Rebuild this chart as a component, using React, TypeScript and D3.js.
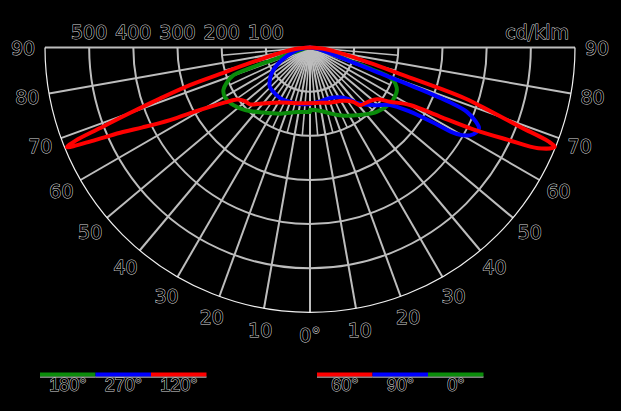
import React from "react";
import * as d3 from "d3";

// ---- data ----
const ANGLE_TICKS = [0, 10, 20, 30, 40, 50, 60, 70, 80, 90];
const RADIAL_TICKS = [100, 200, 300, 400, 500];
const R_MAX = 600;
const UNIT = "cd/klm";

// right side (C0 / C90 / C60)
const C0_ANG = [0, 10, 17, 25, 36.5, 46, 55, 60, 64, 67, 68.6, 70, 70.6, 71.5, 74, 80, 90];
const C0_VAL = [141, 146, 156, 170, 190, 210, 221, 222, 219, 210, 202, 185, 150, 100, 50, 15, 0];
const C90_ANG = [0, 12, 21.6, 34.7, 41, 48, 54.3, 57.3, 58.7, 59.5, 61.2, 63, 64.5, 66, 67.7, 68.6, 69.3, 70, 72, 80, 90];
const C90_VAL = [127, 124, 123, 139, 168, 195, 223, 269, 330, 386, 413, 423, 424, 410, 384, 340, 250, 150, 70, 15, 0];
const C60_ANG = [0, 10, 20, 31.7, 38.4, 41, 46.9, 52.3, 55.9, 60.1, 62, 63.4, 65, 66.2, 67.9, 68.5, 69.3, 70.6, 71.8, 72.6, 73.6, 75.5, 78.7, 84, 90];
const C60_VAL = [126, 127, 133, 142, 157, 173, 180, 192, 219, 261, 333, 415, 495, 565, 598, 580, 510, 430, 370, 300, 215, 140, 80, 34, 0];

// left side (C180 / C270 / C120)
const C180_ANG = [0, 11, 24, 36, 46, 53, 60, 64, 67, 70, 71, 71.5, 73, 80, 90];
const C180_VAL = [146, 149, 164, 182, 204, 217, 223, 218, 205, 185, 150, 90, 40, 10, 0];
const C270_ANG = [0, 10, 20, 30, 40, 46, 51, 56, 62, 70, 78, 85, 90];
const C270_VAL = [128, 130, 131, 133, 130, 127, 117, 105, 85, 55, 30, 12, 0];
const C120_ANG = [0, 10, 28.6, 40.6, 46.5, 50.5, 54.5, 57.1, 60.4, 62.6, 64.5, 65.7, 66.7, 67.7, 68.3, 69, 70, 71.2, 72.6, 73.6, 75.5, 78.7, 84.3, 90];
const C120_VAL = [126, 128, 142, 167, 187, 191, 203, 229, 286, 357, 420, 465, 530, 595, 573, 509, 434, 359, 285, 212, 140, 81, 34, 0];

const LEGEND_LEFT = ["180°", "270°", "120°"];
const LEGEND_RIGHT = ["60°", "90°", "0°"];

const GREEN = "#0b8c0b";
const BLUE = "#0000ff";
const RED = "#ff0000";

type Series = { ang: number[]; val: number[]; side: number; color: string };
const SERIES: Series[] = [
  { ang: C180_ANG, val: C180_VAL, side: -1, color: GREEN },
  { ang: C0_ANG, val: C0_VAL, side: 1, color: GREEN },
  { ang: C270_ANG, val: C270_VAL, side: -1, color: BLUE },
  { ang: C90_ANG, val: C90_VAL, side: 1, color: BLUE },
  { ang: C120_ANG, val: C120_VAL, side: -1, color: RED },
  { ang: C60_ANG, val: C60_VAL, side: 1, color: RED },
];

const W = 621;
const H = 411;
const CX = 310;
const CY = 47.5;
const RPX = 265;

export default function App() {
  const r = d3.scaleLinear().domain([0, R_MAX]).range([0, RPX]);
  const rad = (deg: number) => (deg * Math.PI) / 180;
  const pt = (deg: number, v: number, side: number): [number, number] => [
    CX + side * r(v) * Math.sin(rad(deg)),
    CY + r(v) * Math.cos(rad(deg)),
  ];
  const line = d3
    .line<[number, number]>()
    .x((d) => d[0])
    .y((d) => d[1])
    .curve(d3.curveCatmullRom.alpha(0.5));

  const semicircle = (radius: number) =>
    `M${CX - radius},${CY} A${radius},${radius} 0 0 0 ${CX + radius},${CY}`;

  const gridColor = "#bdbdbd";
  const textStyle: React.CSSProperties = {
    fontFamily: "DejaVu Sans, sans-serif",
    fontSize: 19,
    fill: "#000",
    stroke: "#d8d8d8",
    strokeWidth: 1.0,
    paintOrder: "stroke",
  };
  const legendText: React.CSSProperties = {
    fontFamily: "Liberation Sans, Arial, sans-serif",
    fontSize: 18,
    fill: "#000",
    stroke: "#d8d8d8",
    strokeWidth: 1.0,
    paintOrder: "stroke",
  };

  const fineAngles = d3.range(5, 90, 5).filter((a) => a % 10 !== 0);
  const mainAngles = d3.range(-80, 90, 10);

  const legendX0 = 40;
  const legendX1 = 317;
  const segW = 55.5;
  const leftColors = [GREEN, BLUE, RED];
  const rightColors = [RED, BLUE, GREEN];

  return (
    <div style={{ position: "fixed", left: 0, top: 0, width: W, height: H, background: "#000" }}>
      <svg width={W} height={H} style={{ display: "block" }}>
        <rect width={W} height={H} fill="#000" />
        {/* circles */}
        {RADIAL_TICKS.map((t) => (
          <path key={t} d={semicircle(r(t))} fill="none" stroke={gridColor} strokeWidth={2} />
        ))}
        {/* fine radial lines */}
        {fineAngles.flatMap((a) =>
          [-1, 1].map((s) => {
            const [x, y] = pt(a, 200, s);
            return <line key={`f${a}${s}`} x1={CX} y1={CY} x2={x} y2={y} stroke={gridColor} strokeWidth={1.6} />;
          })
        )}
        {/* main radial lines */}
        {mainAngles.map((a) => {
          const [x, y] = pt(Math.abs(a), R_MAX, a < 0 ? -1 : 1);
          return <line key={`m${a}`} x1={CX} y1={CY} x2={x} y2={y} stroke={gridColor} strokeWidth={2} />;
        })}
        {/* top line */}
        <line x1={CX - RPX} y1={CY} x2={CX + RPX} y2={CY} stroke={gridColor} strokeWidth={2} />
        {/* outer circle */}
        <path d={semicircle(RPX)} fill="none" stroke="#f0f0f0" strokeWidth={1.2} />

        {/* curves */}
        {SERIES.map((s, i) => (
          <path
            key={i}
            d={line(s.ang.map((a, j) => pt(a, s.val[j], s.side))) || ""}
            fill="none"
            stroke={s.color}
            strokeWidth={4}
            strokeLinejoin="round"
            strokeLinecap="round"
          />
        ))}

        {/* radial tick labels */}
        {RADIAL_TICKS.map((t) => (
          <text key={`rt${t}`} x={CX - r(t)} y={39} textAnchor="middle" style={textStyle}>
            {t}
          </text>
        ))}
        <text x={569} y={39} textAnchor="end" style={textStyle}>
          {UNIT}
        </text>

        {/* angle labels */}
        {ANGLE_TICKS.flatMap((a) =>
          (a === 0 ? [1] : [-1, 1]).map((s) => {
            const lr = 287;
            const x = CX + s * lr * Math.sin(rad(a));
            const y = CY + lr * Math.cos(rad(a));
            return (
              <text
                key={`a${a}${s}`}
                x={x}
                y={y}
                textAnchor="middle"
                dominantBaseline="central"
                style={textStyle}
              >
                {a === 0 ? "0°" : a}
              </text>
            );
          })
        )}

        {/* legend */}
        {LEGEND_LEFT.map((lab, i) => (
          <g key={`ll${i}`}>
            <line x1={legendX0 + i * segW} x2={legendX0 + (i + 1) * segW} y1={377} y2={377} stroke="#fff" strokeWidth={1} />
            <line x1={legendX0 + i * segW} x2={legendX0 + (i + 1) * segW} y1={374.5} y2={374.5} stroke={leftColors[i]} strokeWidth={4} />
            <text x={legendX0 + (i + 0.5) * segW} y={391} textAnchor="middle" style={legendText}>
              {lab}
            </text>
          </g>
        ))}
        {LEGEND_RIGHT.map((lab, i) => (
          <g key={`lr${i}`}>
            <line x1={legendX1 + i * segW} x2={legendX1 + (i + 1) * segW} y1={377} y2={377} stroke="#fff" strokeWidth={1} />
            <line x1={legendX1 + i * segW} x2={legendX1 + (i + 1) * segW} y1={374.5} y2={374.5} stroke={rightColors[i]} strokeWidth={4} />
            <text x={legendX1 + (i + 0.5) * segW} y={391} textAnchor="middle" style={legendText}>
              {lab}
            </text>
          </g>
        ))}
      </svg>
    </div>
  );
}
